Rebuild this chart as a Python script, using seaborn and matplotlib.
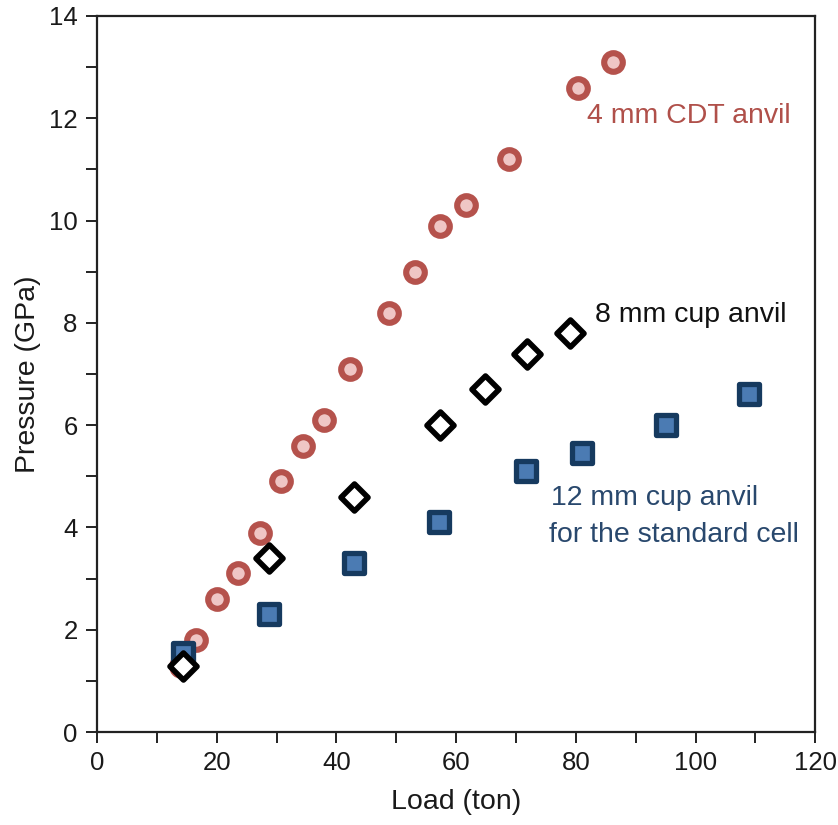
import matplotlib
matplotlib.use("Agg")
import matplotlib.pyplot as plt
import seaborn as sns
import pandas as pd
from matplotlib.ticker import MultipleLocator

# Pressure calibration data: load (ton) vs. generated pressure (GPa)
cdt_load = [14.0, 16.6, 20.1, 23.6, 27.3, 30.8, 34.4, 37.9, 42.2, 48.8, 53.1, 57.3, 61.7, 68.9, 80.3, 86.2]
cdt_pressure = [1.3, 1.8, 2.6, 3.1, 3.9, 4.9, 5.6, 6.1, 7.1, 8.2, 9.0, 9.9, 10.3, 11.2, 12.6, 13.1]

cup8_load = [14.4, 28.7, 42.9, 57.3, 64.8, 71.8, 79.0]
cup8_pressure = [1.3, 3.4, 4.6, 6.0, 6.7, 7.4, 7.8]

cup12_load = [14.3, 28.7, 42.9, 57.1, 71.6, 81.1, 95.1, 109.0]
cup12_pressure = [1.55, 2.3, 3.3, 4.1, 5.1, 5.45, 6.0, 6.6]

series_labels = ["4 mm CDT anvil", "8 mm cup anvil", "12 mm cup anvil", "for the standard cell"]

sns.set_theme(style="ticks")
plt.rcParams["font.family"] = ["Liberation Sans", "DejaVu Sans"]

fig = plt.figure(figsize=(8.38, 8.25), dpi=100)
ax = fig.add_axes([0.1158, 0.1127, 0.857, 0.868])

red_edge = "#b5524c"
red_face = "#efc6c5"
blue_edge = "#163a5f"
blue_face = "#4b7bb3"

df_cdt = pd.DataFrame({"load": cdt_load, "pressure": cdt_pressure})
df_8 = pd.DataFrame({"load": cup8_load, "pressure": cup8_pressure})
df_12 = pd.DataFrame({"load": cup12_load, "pressure": cup12_pressure})

sns.scatterplot(data=df_cdt, x="load", y="pressure", ax=ax, marker="o", s=180,
                color=red_face, edgecolor=red_edge, linewidth=4.4, zorder=3)
sns.scatterplot(data=df_12, x="load", y="pressure", ax=ax, marker="s", s=200,
                color=blue_face, edgecolor=blue_edge, linewidth=3.8, zorder=4)
sns.scatterplot(data=df_8, x="load", y="pressure", ax=ax, marker="D", s=190,
                color="white", edgecolor="black", linewidth=4.0, zorder=5)

ann_size = 20.5
ax.text(81.8, 11.9, series_labels[0], color="#b0504a", fontsize=ann_size, va="baseline", ha="left")
ax.text(83.2, 8.02, series_labels[1], color="#111111", fontsize=ann_size, va="baseline", ha="left")
ax.text(75.9, 4.44, series_labels[2], color="#29486d", fontsize=ann_size, va="baseline", ha="left")
ax.text(75.6, 3.71, series_labels[3], color="#29486d", fontsize=ann_size, va="baseline", ha="left")

ax.set_xlim(0, 120)
ax.set_ylim(0, 14)
ax.xaxis.set_major_locator(MultipleLocator(20))
ax.xaxis.set_minor_locator(MultipleLocator(10))
ax.yaxis.set_major_locator(MultipleLocator(2))
ax.yaxis.set_minor_locator(MultipleLocator(1))

ax.set_xlabel("Load (ton)", fontsize=20.5, color="#1a1a1a", labelpad=10)
ax.set_ylabel("Pressure (GPa)", fontsize=20.5, color="#1a1a1a", labelpad=6)

ax.tick_params(axis="both", which="both", direction="out", length=8, width=1.4,
               color="#222222", labelsize=18.5, labelcolor="#1a1a1a")
ax.tick_params(axis="both", which="major", pad=6)

for side in ["left", "right", "top", "bottom"]:
    ax.spines[side].set_visible(True)
    ax.spines[side].set_linewidth(1.6)
    ax.spines[side].set_color("#222222")

ax.grid(False)
fig.savefig("out.png", dpi=100, facecolor="white")
